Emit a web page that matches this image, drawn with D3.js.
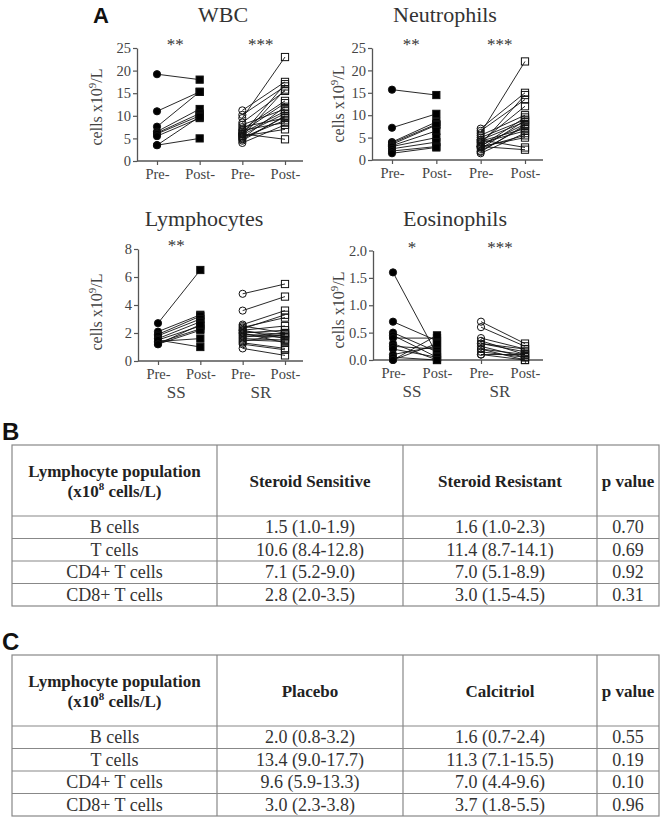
<!DOCTYPE html>
<html><head><meta charset="utf-8">
<script src="https://cdn.jsdelivr.net/npm/d3@7"></script>
<style>body{margin:0;background:#fff}svg{display:block}.serif{font-family:'Liberation Serif','Times New Roman',serif}.sans{font-family:'Liberation Sans',Arial,sans-serif}</style>
</head><body>
<svg id="c" width="664" height="821"></svg>
<script>
// ---------- DATA ----------
const xCategories = ["SS Pre-", "SS Post-", "SR Pre-", "SR Post-"];
const xTickLabels = ["Pre-", "Post-", "Pre-", "Post-"];
const groupLabels = ["SS", "SR"];
const panelTitles = ["WBC", "Neutrophils", "Lymphocytes", "Eosinophils"];
const panelStars = [["**", "***"], ["**", "***"], ["**", ""], ["*", "***"]];
const yTicksWBC = [0, 5, 10, 15, 20, 25];
const yTicksNeut = [0, 5, 10, 15, 20, 25];
const yTicksLymph = [0, 2, 4, 6, 8];
const yTicksEos = [0, 0.5, 1.0, 1.5, 2.0];

const wbcSSPre  = [19.2, 11.0, 7.6, 6.5, 6.2, 6.0, 5.5, 3.5, 3.5];
const wbcSSPost = [18.0, 15.3, 15.3, 11.5, 10.5, 10.0, 9.5, 5.0, 9.8];
const wbcSRPre  = [9.5, 11.2, 6.0, 10.2, 5.5, 8.5, 7.0, 6.5, 5.0, 8.0, 6.2, 5.8, 4.5, 7.5, 5.2, 6.8, 4.0, 5.5, 6.0, 4.8];
const wbcSRPost = [23.0, 17.5, 17.0, 16.5, 15.8, 15.5, 13.3, 12.8, 12.0, 11.5, 11.0, 10.5, 10.0, 9.5, 9.0, 8.5, 8.0, 7.0, 4.8, 9.8];

const neutSSPre  = [15.7, 7.2, 4.0, 3.8, 3.5, 3.2, 3.0, 2.5, 2.0, 1.5];
const neutSSPost = [14.5, 10.3, 8.5, 8.0, 7.8, 6.5, 5.0, 4.0, 3.0, 2.8];
const neutSRPre  = [6.0, 7.0, 3.5, 6.5, 4.0, 5.5, 3.0, 5.0, 2.5, 4.5, 3.2, 2.0, 4.2, 3.8, 1.5, 2.8, 3.0, 4.5, 3.0, 1.8];
const neutSRPost = [22.0, 15.0, 14.5, 13.5, 12.0, 10.0, 9.5, 9.0, 8.8, 8.5, 8.0, 7.5, 7.0, 6.5, 6.0, 5.5, 5.0, 2.8, 2.3, 7.8];

const lymphSSPre  = [2.7, 2.1, 1.9, 1.8, 1.6, 1.5, 1.3, 1.2, 1.4, 1.5, 1.2];
const lymphSSPost = [6.5, 3.3, 3.2, 3.0, 2.8, 2.5, 2.3, 2.2, 1.6, 1.0, 2.6];
const lymphSRPre  = [4.8, 3.6, 2.6, 2.3, 2.4, 2.2, 2.5, 2.1, 2.0, 1.9, 1.8, 2.2, 1.7, 1.6, 1.5, 1.4, 1.3, 1.2, 0.9, 2.0];
const lymphSRPost = [5.5, 4.6, 3.6, 3.3, 3.1, 2.5, 2.0, 1.9, 2.2, 1.8, 1.7, 1.6, 2.0, 1.5, 1.4, 1.9, 0.9, 0.8, 0.4, 1.3];

const eosSSPre  = [1.6, 0.7, 0.5, 0.45, 0.4, 0.3, 0.25, 0.2, 0.1, 0.05, 0.0, 0.0];
const eosSSPost = [0.10, 0.35, 0.15, 0.05, 0.40, 0.0, 0.20, 0.05, 0.25, 0.0, 0.30, 0.45];
const eosSRPre  = [0.7, 0.6, 0.4, 0.35, 0.3, 0.25, 0.2, 0.2, 0.15, 0.1, 0.3, 0.1];
const eosSRPost = [0.3, 0.25, 0.2, 0.1, 0.15, 0.05, 0.1, 0.0, 0.05, 0.0, 0.2, 0.1];

const tableBHeaders = [["Lymphocyte population", "(x10|8| cells/L)"], ["Steroid Sensitive"], ["Steroid Resistant"], ["p value"]];
const tableBRowNames = ["B cells", "T cells", "CD4+ T cells", "CD8+ T cells"];
const tableBSensitive = ["1.5 (1.0-1.9)", "10.6 (8.4-12.8)", "7.1 (5.2-9.0)", "2.8 (2.0-3.5)"];
const tableBResistant = ["1.6 (1.0-2.3)", "11.4 (8.7-14.1)", "7.0 (5.1-8.9)", "3.0 (1.5-4.5)"];
const tableBP = ["0.70", "0.69", "0.92", "0.31"];

const tableCHeaders = [["Lymphocyte population", "(x10|8| cells/L)"], ["Placebo"], ["Calcitriol"], ["p value"]];
const tableCRowNames = ["B cells", "T cells", "CD4+ T cells", "CD8+ T cells"];
const tableCPlacebo = ["2.0 (0.8-3.2)", "13.4 (9.0-17.7)", "9.6 (5.9-13.3)", "3.0 (2.3-3.8)"];
const tableCCalcitriol = ["1.6 (0.7-2.4)", "11.3 (7.1-15.5)", "7.0 (4.4-9.6)", "3.7 (1.8-5.5)"];
const tableCP = ["0.55", "0.19", "0.10", "0.96"];

// ---------- DRAW ----------
const svg = d3.select("#c");
const SERIF = "'Liberation Serif','Times New Roman',serif";
const SANS = "'Liberation Sans',Arial,sans-serif";
const AXC = "#555";

const panels = [
  {title: panelTitles[0], stars: panelStars[0], ticks: yTicksWBC, fmt: d3.format("d"), max: 25,
   x0: 137, x1: 303, y0: 161, y1: 48, tx: 223, ty: 22, lx: 102, ly: 107, bottom: false,
   ss: [wbcSSPre, wbcSSPost], sr: [wbcSRPre, wbcSRPost]},
  {title: panelTitles[1], stars: panelStars[1], ticks: yTicksNeut, fmt: d3.format("d"), max: 25,
   x0: 372, x1: 543, y0: 160, y1: 48, tx: 445, ty: 22, lx: 344, ly: 104, bottom: false,
   ss: [neutSSPre, neutSSPost], sr: [neutSRPre, neutSRPost]},
  {title: panelTitles[2], stars: panelStars[2], ticks: yTicksLymph, fmt: d3.format("d"), max: 8,
   x0: 138, x1: 303, y0: 361, y1: 249, tx: 204, ty: 226, lx: 102, ly: 312, bottom: true,
   ss: [lymphSSPre, lymphSSPost], sr: [lymphSRPre, lymphSRPost]},
  {title: panelTitles[3], stars: panelStars[3], ticks: yTicksEos, fmt: d3.format(".1f"), max: 2,
   x0: 373, x1: 543, y0: 360, y1: 250.5, tx: 455, ty: 226, lx: 344, ly: 310, bottom: true,
   ss: [eosSSPre, eosSSPost], sr: [eosSRPre, eosSRPost]}
];

panels.forEach(p => {
  const g = svg.append("g");
  const x = d3.scalePoint().domain(xCategories)
    .range([p.x0 + 20, p.x1 - 18]);
  const y = d3.scaleLinear().domain([0, p.max]).range([p.y0, p.y1]);

  g.append("text").attr("class", "serif").attr("x", p.tx).attr("y", p.ty).attr("text-anchor", "middle")
    .style("font-family", SERIF).attr("font-size", 22).attr("fill", "#333").text(p.title);

  const ya = g.append("g").attr("transform", `translate(${p.x0},0)`)
    .call(d3.axisLeft(y).tickValues(p.ticks).tickFormat(p.fmt).tickSize(4).tickSizeOuter(0).tickPadding(2));
  ya.attr("font-family", SERIF);
  ya.select(".domain").attr("stroke", AXC).attr("stroke-width", 1.3);
  ya.selectAll(".tick line").attr("stroke", AXC).attr("stroke-width", 1.2);
  ya.selectAll(".tick text").style("font-family", SERIF).attr("font-size", 14.5).attr("fill", "#444");

  const yl = g.append("text").attr("transform", `translate(${p.lx},${p.ly}) rotate(-90)`)
    .attr("text-anchor", "middle").style("font-family", SERIF).attr("font-size", 16).attr("fill", "#444");
  yl.append("tspan").text("cells x10");
  yl.append("tspan").attr("font-size", 11).attr("dy", -6).text("9");
  yl.append("tspan").attr("dy", 6).text("/L");

  const xa = g.append("g").attr("transform", `translate(0,${p.y0})`)
    .call(d3.axisBottom(x).tickFormat((d, i) => xTickLabels[i]).tickSize(4).tickSizeOuter(0).tickPadding(4));
  xa.attr("font-family", SERIF);
  xa.select(".domain").attr("d", `M${p.x0},0H${p.x1}`).attr("stroke", AXC).attr("stroke-width", 1.3);
  xa.selectAll(".tick line").attr("stroke", AXC).attr("stroke-width", 1.2);
  xa.selectAll(".tick text").style("font-family", SERIF).attr("font-size", 14.5).attr("fill", "#444");

  if (p.bottom) {
    groupLabels.forEach((gl, i) => {
      const mid = (x(xCategories[2 * i]) + x(xCategories[2 * i + 1])) / 2 - 3;
      g.append("text").attr("x", mid).attr("y", p.y0 + 37).attr("text-anchor", "middle")
        .style("font-family", SERIF).attr("font-size", 17).attr("fill", "#444").text(gl);
    });
  }

  p.stars.forEach((s, i) => {
    const mid = (x(xCategories[2 * i]) + x(xCategories[2 * i + 1])) / 2 - 3;
    g.append("text").attr("x", mid).attr("y", p.y1 + 2).attr("text-anchor", "middle")
      .style("font-family", SERIF).attr("font-size", 17).attr("fill", "#333").text(s);
  });

  const groups = [{d: p.ss, a: xCategories[0], b: xCategories[1], open: false},
                  {d: p.sr, a: xCategories[2], b: xCategories[3], open: true}];
  groups.forEach(G => {
    const pairs = G.d[0].map((v, i) => [v, G.d[1][i]]);
    g.append("g").selectAll("line").data(pairs).join("line")
      .attr("x1", x(G.a)).attr("x2", x(G.b))
      .attr("y1", d => y(d[0])).attr("y2", d => y(d[1]))
      .attr("stroke", "#111").attr("stroke-width", 0.9);
  });
  groups.forEach(G => {
    const pairs = G.d[0].map((v, i) => [v, G.d[1][i]]);
    g.append("g").selectAll("circle").data(pairs).join("circle")
      .attr("cx", x(G.a)).attr("cy", d => y(d[0])).attr("r", 3.6)
      .attr("fill", G.open ? "#fff" : "#000").attr("fill-opacity", G.open ? 0 : 1)
      .attr("stroke", "#111").attr("stroke-width", 1);
    g.append("g").selectAll("rect").data(pairs).join("rect")
      .attr("x", x(G.b) - 3.6).attr("y", d => y(d[1]) - 3.6).attr("width", 7.2).attr("height", 7.2)
      .attr("fill", G.open ? "#fff" : "#000").attr("fill-opacity", G.open ? 0 : 1)
      .attr("stroke", "#111").attr("stroke-width", 1);
  });
});

svg.append("text").attr("x", 93).attr("y", 23).style("font-family", SANS).attr("font-weight", "bold")
  .attr("font-size", 22).attr("fill", "#111").text("A");

// ---------- TABLES ----------
function drawTable(letter, top, headers, names, c1, c2, pv) {
  const cols = [12, 217, 403, 597, 659];
  const headerH = 71, rowH = 22.5;
  const g = svg.append("g");
  g.append("text").attr("x", 2).attr("y", top - 5).style("font-family", SANS).attr("font-weight", "bold")
    .attr("font-size", 24).attr("fill", "#111").text(letter);
  const rows = names.map((n, i) => [n, c1[i], c2[i], pv[i]]);
  const yRow = d3.scaleBand().domain(d3.range(rows.length))
    .range([top + headerH, top + headerH + rowH * rows.length]);
  const bottom = top + headerH + rowH * rows.length;
  g.append("rect").attr("x", cols[0]).attr("y", top).attr("width", cols[4] - cols[0]).attr("height", bottom - top)
    .attr("fill", "none").attr("stroke", "#888").attr("stroke-width", 1.2);
  cols.slice(1, 4).forEach(cx => g.append("line").attr("x1", cx).attr("x2", cx).attr("y1", top).attr("y2", bottom)
    .attr("stroke", "#888").attr("stroke-width", 1.2));
  d3.range(rows.length).forEach(i => g.append("line").attr("x1", cols[0]).attr("x2", cols[4])
    .attr("y1", yRow(i)).attr("y2", yRow(i)).attr("stroke", "#888").attr("stroke-width", 1.2));
  headers.forEach((h, j) => {
    const cx = (cols[j] + cols[j + 1]) / 2;
    const mid = top + headerH / 2;
    h.forEach((line, k) => {
      const yy = mid + 6 + (h.length === 1 ? 0 : (k === 0 ? -10 : 10));
      const t = g.append("text").attr("x", cx).attr("y", yy).attr("text-anchor", "middle")
        .style("font-family", SERIF).attr("font-weight", "bold").attr("font-size", 17).attr("fill", "#222");
      const parts = line.split("|");
      if (parts.length === 1) t.text(line);
      else {
        t.append("tspan").text(parts[0]);
        t.append("tspan").attr("dy", -7).attr("font-size", 11).text(parts[1]);
        t.append("tspan").attr("dy", 7).text(parts[2]);
      }
    });
  });
  rows.forEach((r, i) => {
    r.forEach((cell, j) => {
      g.append("text").attr("x", (cols[j] + cols[j + 1]) / 2).attr("y", yRow(i) + rowH / 2 + 6)
        .attr("text-anchor", "middle").style("font-family", SERIF).attr("font-size", 18)
        .attr("fill", "#333").text(cell);
    });
  });
}
drawTable("B", 445, tableBHeaders, tableBRowNames, tableBSensitive, tableBResistant, tableBP);
drawTable("C", 655, tableCHeaders, tableCRowNames, tableCPlacebo, tableCCalcitriol, tableCP);
</script>
</body></html>
